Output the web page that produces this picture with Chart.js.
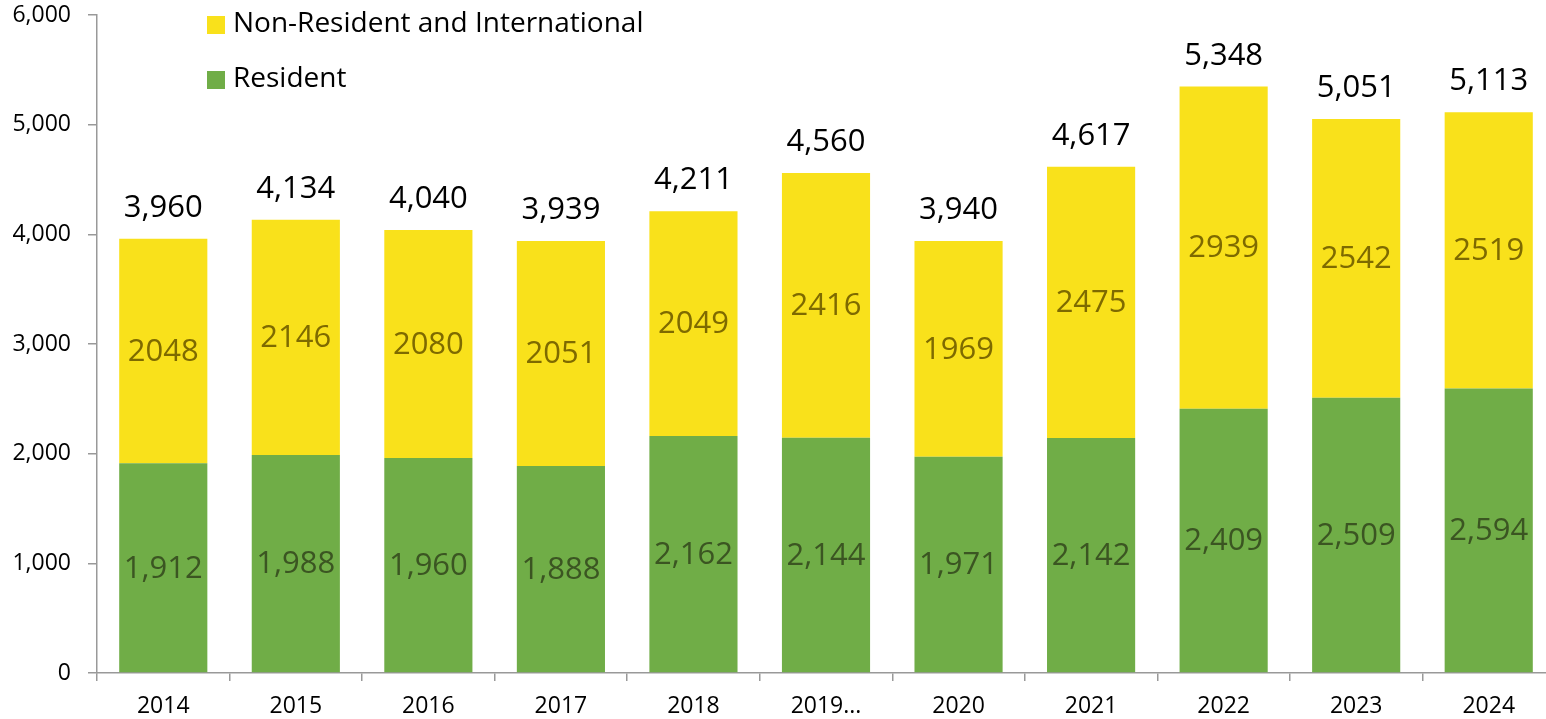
<!DOCTYPE html>
<html>
<head>
<meta charset="utf-8">
<script src="https://cdn.jsdelivr.net/npm/chart.js@4"></script>
<style>
  html, body { margin: 0; padding: 0; background: #fff; overflow: hidden; }
  #wrap { width: 1555px; height: 719px; position: relative; }
</style>
</head>
<body>
<div id="wrap"><canvas id="myChart"></canvas></div>
<script>
// 데이터
const years = ['2014', '2015', '2016', '2017', '2018', '2019...', '2020', '2021', '2022', '2023', '2024'];
const resident = [1912, 1988, 1960, 1888, 2162, 2144, 1971, 2142, 2409, 2509, 2594];
const nonResident = [2048, 2146, 2080, 2051, 2049, 2416, 1969, 2475, 2939, 2542, 2519];
const totals = [3960, 4134, 4040, 3939, 4211, 4560, 3940, 4617, 5348, 5051, 5113];
const yTicks = [0, 1000, 2000, 3000, 4000, 5000, 6000];

const FONT = "'Open Sans', 'Noto Sans', sans-serif";
const fmt = (v) => v.toLocaleString('en-US');

// 막대 안/위 숫자 그리기
const barLabels = {
  id: 'barLabels',
  afterDatasetsDraw(chart) {
    const c = chart.ctx;
    c.save();
    c.textAlign = 'center';
    c.textBaseline = 'middle';
    c.font = '31px ' + FONT;
    chart.data.datasets.forEach((ds, i) => {
      const meta = chart.getDatasetMeta(i);
      c.fillStyle = ds.labelColor;
      meta.data.forEach((bar, j) => {
        const txt = i == 0 ? fmt(ds.data[j]) : String(ds.data[j]);
        c.fillText(txt, bar.x, (bar.y + bar.base) / 2 + 1);
      });
    });
    // 합계
    const top = chart.getDatasetMeta(1);
    c.fillStyle = '#000';
    c.font = '31px ' + FONT;
    c.textBaseline = 'alphabetic';
    top.data.forEach((bar, j) => {
      c.fillText(fmt(totals[j]), bar.x, bar.y - 22);
    });
    c.restore();
  }
};

// 범례 (차트 안 왼쪽 위)
const myLegend = {
  id: 'myLegend',
  afterDraw(chart) {
    const c = chart.ctx;
    const items = [chart.data.datasets[1], chart.data.datasets[0]];
    c.save();
    c.font = '28px ' + FONT;
    c.textBaseline = 'middle';
    c.textAlign = 'left';
    items.forEach((ds, i) => {
      const cy = 25 + i * 55;
      c.fillStyle = ds.backgroundColor;
      c.fillRect(207, cy - 9, 18, 18);
      c.fillStyle = '#000';
      c.fillText(ds.label, 233, cy - 1);
    });
    c.restore();
  }
};

const ctx = document.getElementById('myChart');

new Chart(ctx, {
  type: 'bar',
  data: {
    labels: years,
    datasets: [{
      label: 'Resident',
      data: resident,
      backgroundColor: '#70AD47',
      labelColor: '#3B5522',
      barPercentage: 0.665,
      categoryPercentage: 1
    }, {
      label: 'Non-Resident and International',
      data: nonResident,
      backgroundColor: '#F9E11B',
      labelColor: '#7E6A00',
      barPercentage: 0.665,
      categoryPercentage: 1
    }]
  },
  options: {
    responsive: true,
    maintainAspectRatio: false,
    animation: false,
    layout: { padding: { top: 15, right: 0, left: 0, bottom: 0 } },
    plugins: {
      legend: { display: false },
      tooltip: { enabled: false }
    },
    scales: {
      x: {
        stacked: true,
        grid: { display: true, drawOnChartArea: false, drawTicks: true, tickLength: 8, color: '#999', lineWidth: 1.5 },
        border: { display: true, color: '#999', width: 1.5 },
        ticks: { color: '#000', font: { family: FONT, size: 23 }, padding: 12, maxRotation: 0, autoSkip: false },
        afterFit: (s) => { s.height = 46; s.paddingLeft = 0; s.paddingRight = 0; }
      },
      y: {
        stacked: true,
        min: 0,
        max: 6000,
        afterBuildTicks: (s) => { s.ticks = yTicks.map(v => ({ value: v })); },
        grid: { display: true, drawOnChartArea: false, drawTicks: true, tickLength: 9, color: '#999', lineWidth: 1.5 },
        border: { display: true, color: '#999', width: 1.5 },
        ticks: { color: '#000', font: { family: FONT, size: 23 }, padding: 17, callback: (v) => fmt(v) },
        afterFit: (s) => { s.width = 97; s.paddingTop = 0; s.paddingBottom = 0; }
      }
    }
  },
  plugins: [barLabels, myLegend]
});
</script>
</body>
</html>
